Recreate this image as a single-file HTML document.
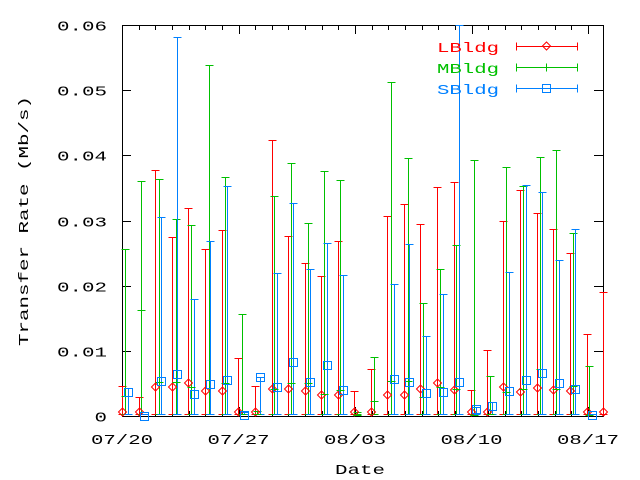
<!DOCTYPE html>
<html><head><meta charset="utf-8"><style>
html,body{margin:0;padding:0;background:#fff;width:640px;height:480px;overflow:hidden}
text{font-family:"Liberation Mono",monospace;font-size:14px;font-weight:normal}
</style></head><body>
<svg id="s" width="640" height="480" xmlns="http://www.w3.org/2000/svg">
<rect x="0" y="0" width="640" height="480" fill="#fff"/>
<g id="ax" stroke="#000" stroke-width="1" fill="none" shape-rendering="crispEdges"></g>
<g id="dat" stroke-width="1" fill="none" shape-rendering="crispEdges"></g>
<g id="txt"></g>
</svg>
<script>
var NS="http://www.w3.org/2000/svg";
function el(p,t,a,txt){var e=document.createElementNS(NS,t);for(var k in a)e.setAttribute(k,a[k]);if(txt!=null)e.textContent=txt;document.getElementById(p).appendChild(e);return e;}
var L=122,R=603,T=25,B=416;
el('ax','rect',{x:L+.5,y:T+.5,width:R-L,height:B-T});
var yl=['0','0.01','0.02','0.03','0.04','0.05','0.06'];
for(var i=0;i<=6;i++){var y=Math.round(B-i*(B-T)/6)+.5;
 el('ax','line',{x1:L,y1:y,x2:L+9,y2:y});el('ax','line',{x1:R-9,y1:y,x2:R,y2:y});
 var w=yl[i].length*12.5;
 el('txt','text',{x:107-w,y:y+5,textLength:w,lengthAdjust:'spacingAndGlyphs'},yl[i]);}
var dx=(588-122)/28;
for(var d=0;d<=29;d++){var x=Math.round(122+d*dx)+.5;if(x>R)break;var len=(d%7==0)?9:5;
 el('ax','line',{x1:x,y1:B,x2:x,y2:B-len});el('ax','line',{x1:x,y1:T,x2:x,y2:T+len});}
var xl=['07/20','07/27','08/03','08/10','08/17'];
for(var i=0;i<5;i++){var x=122+i*7*dx;el('txt','text',{x:x-31,y:444,textLength:62,lengthAdjust:'spacingAndGlyphs'},xl[i]);}
el('txt','text',{x:335,y:474,textLength:50,lengthAdjust:'spacingAndGlyphs'},'Date');
el('txt','text',{x:0,y:0,textLength:250,lengthAdjust:'spacingAndGlyphs',transform:'translate(28,346) rotate(-90)'},'Transfer Rate (Mb/s)');
var RED='#ff0000',GRN='#00c000',BLU='#0080ff';
function bar(c,x,lo,hi){x=x+.5;el('dat','line',{x1:x,y1:lo,x2:x,y2:hi,stroke:c});
 el('dat','line',{x1:x-4,y1:lo+.5,x2:x+4,y2:lo+.5,stroke:c});el('dat','line',{x1:x-4,y1:hi+.5,x2:x+4,y2:hi+.5,stroke:c});}
function dia(x,y){x+=.5;el('dat','path',{d:'M'+(x-4)+' '+y+'L'+x+' '+(y-4)+'L'+(x+4)+' '+y+'L'+x+' '+(y+4)+'Z',stroke:RED,'shape-rendering':'auto'});}
function sq(x,y){el('dat','rect',{x:x-3.5,y:y-3.5,width:8,height:8,stroke:BLU});}
function tk(x,y){el('dat','line',{x1:x-3.5,y1:y+.5,x2:x+4.5,y2:y+.5,stroke:GRN});}
var D=[
[122,386,412,125,249,396,128,388,392],
[139,397,412,141,181,310,144,414,416],
[155,170,387,159,179,382,161,217,381],
[172,237,387,176,219,382,177,37,374],
[188,208,383,191,225,387,194,299,394],
[205,249,391,209,65,380,210,241,384],
[222,230,391,225,177,383,227,186,380],
[238,358,412,242,314,414,244,412,415],
[255,386,412,257,411,414,260,377,377],
[272,140,389,274,196,389,277,273,387],
[288,236,389,291,163,383,293,203,362],
[305,263,391,308,223,383,310,269,382],
[321,276,395,324,171,394,327,243,365],
[338,241,395,340,180,390,343,275,390],
[354,391,412,357,412,415,0,0,0],
[371,369,412,374,357,401,0,0,0],
[387,216,395,391,82,381,394,284,379],
[404,204,395,408,158,381,409,244,382],
[420,224,389,423,303,397,426,336,393],
[437,187,383,440,269,387,443,294,392],
[454,182,390,456,245,389,459,25,382],
[471,390,412,474,160,415,476,407,409],
[487,350,412,490,376,414,492,402,406],
[503,221,387,506,167,392,509,272,391],
[520,190,392,523,186,389,526,185,380],
[537,213,388,540,157,369,542,192,373],
[553,229,390,556,150,389,559,260,383],
[570,253,391,573,233,386,575,229,389],
[587,334,412,589,366,415,592,414,415],
[603,292,412,0,0,0,0,0,0]];
D.forEach(function(g){
 bar(RED,g[0],414,g[1]);
 if(g[3]){bar(GRN,g[3],414,g[4]);}
 if(g[6]){bar(BLU,g[6],414,g[7]);}
});
D.forEach(function(g){dia(g[0],g[2]);if(g[3])tk(g[3],g[5]);if(g[6])sq(g[6],g[8]);});
var lg=[['LBldg',RED,46],['MBldg',GRN,67],['SBldg',BLU,88]];
lg.forEach(function(l,i){
 el('txt','text',{x:437,y:l[2]+6,textLength:62,lengthAdjust:'spacingAndGlyphs',fill:l[1]},l[0]);
 var y=l[2]+.5;el('dat','line',{x1:516,y1:y,x2:577,y2:y,stroke:l[1]});
 el('dat','line',{x1:516.5,y1:y-4,x2:516.5,y2:y+4,stroke:l[1]});el('dat','line',{x1:577.5,y1:y-4,x2:577.5,y2:y+4,stroke:l[1]});
 if(i==0)dia(546,l[2]);else if(i==1)el('dat','line',{x1:546.5,y1:y-4,x2:546.5,y2:y+4,stroke:GRN});else sq(546,l[2]);
});
</script>
</body></html>
